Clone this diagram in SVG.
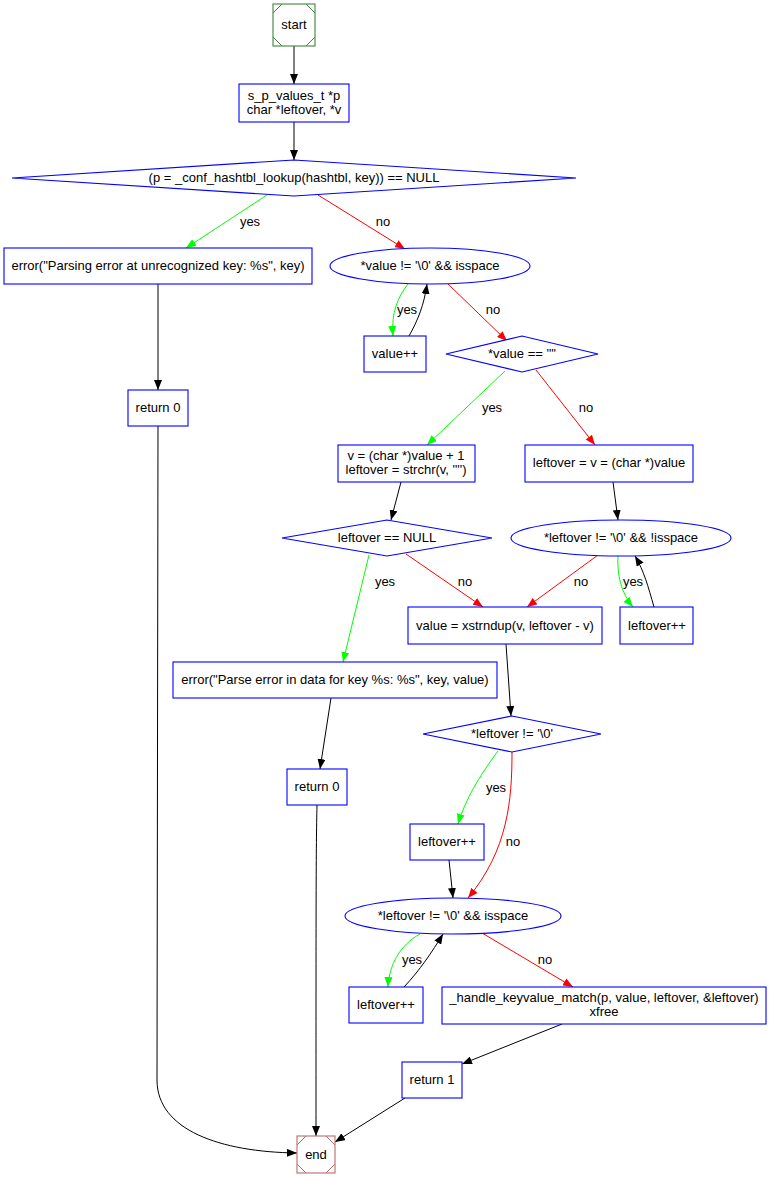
<svg xmlns="http://www.w3.org/2000/svg" width="770" height="1178" viewBox="0 0 770 1178">
  <style>
    text { font-family: "Liberation Sans", Arial, sans-serif; font-size: 13px; fill: #000; text-anchor: middle; dominant-baseline: central; }
    .node { fill: #fff; stroke: #0000ff; stroke-width: 1.1; }
    .edge { fill: none; stroke-width: 1; }
    .k { stroke: #000; }
    .g { stroke: #00ff00; }
    .r { stroke: #ff0000; }
  </style>
  <defs>
    <marker id="ak" viewBox="0 0 10 8" refX="10" refY="4" markerWidth="10" markerHeight="8" markerUnits="userSpaceOnUse" orient="auto">
      <path d="M0,0 L10,4 L0,8 z" fill="#000"/>
    </marker>
    <marker id="ag" viewBox="0 0 10 8" refX="10" refY="4" markerWidth="10" markerHeight="8" markerUnits="userSpaceOnUse" orient="auto">
      <path d="M0,0 L10,4 L0,8 z" fill="#00ff00"/>
    </marker>
    <marker id="ar" viewBox="0 0 10 8" refX="10" refY="4" markerWidth="10" markerHeight="8" markerUnits="userSpaceOnUse" orient="auto">
      <path d="M0,0 L10,4 L0,8 z" fill="#ff0000"/>
    </marker>
  </defs>

  <!-- connectors -->
  <g id="edges">
    <path class="edge k" d="M294,46 L294,84" marker-end="url(#ak)"/>
    <path class="edge k" d="M294,122 L294,160" marker-end="url(#ak)"/>
    <path class="edge g" d="M267,195 L186,248" marker-end="url(#ag)"/>
    <text x="250" y="221">yes</text>
    <path class="edge r" d="M318,195 L405,249" marker-end="url(#ar)"/>
    <text x="383" y="221">no</text>
    <path class="edge k" d="M158,284 L158,390" marker-end="url(#ak)"/>
    <path class="edge g" d="M408,284 C398,297 391,312 393,336" marker-end="url(#ag)"/>
    <text x="407" y="309">yes</text>
    <path class="edge k" d="M409,336 C418,320 424,305 427,284" marker-end="url(#ak)"/>
    <path class="edge r" d="M448,284 L507,341" marker-end="url(#ar)"/>
    <text x="493" y="309">no</text>
    <path class="edge g" d="M505,371 L427,445" marker-end="url(#ag)"/>
    <text x="492" y="407">yes</text>
    <path class="edge r" d="M536,370 L595,445" marker-end="url(#ar)"/>
    <text x="586" y="407">no</text>
    <path class="edge k" d="M158,426 L157,1080 C157,1130 220,1152 297,1153" marker-end="url(#ak)"/>
    <path class="edge k" d="M401,482 L391,520" marker-end="url(#ak)"/>
    <path class="edge k" d="M613,482 L618,520" marker-end="url(#ak)"/>
    <path class="edge g" d="M369,555 L343,662" marker-end="url(#ag)"/>
    <text x="385" y="581">yes</text>
    <path class="edge r" d="M406,554 L483,607" marker-end="url(#ar)"/>
    <text x="465" y="581">no</text>
    <path class="edge r" d="M598,555 L527,607" marker-end="url(#ar)"/>
    <text x="581" y="581">no</text>
    <path class="edge g" d="M618,556 C617,575 621,593 633,607" marker-end="url(#ag)"/>
    <text x="633" y="581">yes</text>
    <path class="edge k" d="M654,607 C648,586 644,571 635,556" marker-end="url(#ak)"/>
    <path class="edge k" d="M331,698 L320,769" marker-end="url(#ak)"/>
    <path class="edge k" d="M317,805 C316,850 316,900 316,1136" marker-end="url(#ak)"/>
    <path class="edge k" d="M506,644 L511,716" marker-end="url(#ak)"/>
    <path class="edge g" d="M498,751 C480,775 465,800 458,824" marker-end="url(#ag)"/>
    <text x="496" y="787">yes</text>
    <path class="edge r" d="M512,752 C512,800 508,850 468,898" marker-end="url(#ar)"/>
    <text x="513" y="841">no</text>
    <path class="edge k" d="M449,860 L453,898" marker-end="url(#ak)"/>
    <path class="edge g" d="M420,934 C400,945 389,965 388,987" marker-end="url(#ag)"/>
    <text x="412" y="959">yes</text>
    <path class="edge k" d="M404,987 C420,970 432,952 443,934" marker-end="url(#ak)"/>
    <path class="edge r" d="M482,933 L573,987" marker-end="url(#ar)"/>
    <text x="545" y="959">no</text>
    <path class="edge k" d="M562,1024 L462,1064" marker-end="url(#ak)"/>
    <path class="edge k" d="M405,1098 L335,1142" marker-end="url(#ak)"/>
  </g>

  <!-- nodes -->
  <g id="start">
    <rect x="273" y="4" width="42" height="42" fill="#fff" stroke="#3f843f" stroke-width="1.1"/>
    <path d="M273,13 L282,4 M306,4 L315,13 M315,37 L306,46 M282,46 L273,37" stroke="#3f843f" fill="none"/>
    <text x="294" y="24">start</text>
  </g>
  <g id="decl">
    <rect class="node" x="239" y="84" width="110" height="38"/>
    <text x="294" y="95">s_p_values_t *p</text>
    <text x="294" y="109">char *leftover, *v</text>
  </g>
  <g id="lookup">
    <polygon class="node" points="12,178 294,160 576,178 294,196"/>
    <text x="294" y="177">(p = _conf_hashtbl_lookup(hashtbl, key)) == NULL</text>
  </g>
  <g id="err_key">
    <rect class="node" x="4" y="248" width="308" height="36"/>
    <text x="158" y="265">error("Parsing error at unrecognized key: %s", key)</text>
  </g>
  <g id="skip_ws">
    <ellipse class="node" cx="430" cy="266" rx="100" ry="18"/>
    <text x="430" y="265">*value != '\0' &amp;&amp; isspace</text>
  </g>
  <g id="value_inc">
    <rect class="node" x="364" y="336" width="62" height="36"/>
    <text x="395" y="353">value++</text>
  </g>
  <g id="is_quote">
    <polygon class="node" points="446,354 522,336 598,354 522,372"/>
    <text x="522" y="353">*value == '"'</text>
  </g>
  <g id="ret0_a">
    <rect class="node" x="128" y="390" width="60" height="36"/>
    <text x="158" y="407">return 0</text>
  </g>
  <g id="quoted">
    <rect class="node" x="338" y="445" width="137" height="37"/>
    <text x="406" y="455">v = (char *)value + 1</text>
    <text x="406" y="469">leftover = strchr(v, '"')</text>
  </g>
  <g id="unquoted">
    <rect class="node" x="525" y="445" width="168" height="37"/>
    <text x="609" y="462">leftover = v = (char *)value</text>
  </g>
  <g id="null_check">
    <polygon class="node" points="282,538 387,520 492,538 387,556"/>
    <text x="387" y="537">leftover == NULL</text>
  </g>
  <g id="scan_word">
    <ellipse class="node" cx="621" cy="538" rx="110" ry="18"/>
    <text x="621" y="537">*leftover != '\0' &amp;&amp; !isspace</text>
  </g>
  <g id="dup">
    <rect class="node" x="408" y="607" width="194" height="37"/>
    <text x="505" y="625">value = xstrndup(v, leftover - v)</text>
  </g>
  <g id="leftover_inc_a">
    <rect class="node" x="620" y="607" width="73" height="37"/>
    <text x="657" y="625">leftover++</text>
  </g>
  <g id="err_data">
    <rect class="node" x="173" y="662" width="324" height="36"/>
    <text x="335" y="679">error("Parse error in data for key %s: %s", key, value)</text>
  </g>
  <g id="not_end">
    <polygon class="node" points="423,734 512,716 601,734 512,752"/>
    <text x="512" y="733">*leftover != '\0'</text>
  </g>
  <g id="ret0_b">
    <rect class="node" x="287" y="769" width="60" height="36"/>
    <text x="317" y="786">return 0</text>
  </g>
  <g id="leftover_inc_b">
    <rect class="node" x="410" y="824" width="74" height="36"/>
    <text x="447" y="841">leftover++</text>
  </g>
  <g id="skip_ws2">
    <ellipse class="node" cx="453" cy="916" rx="108" ry="18"/>
    <text x="453" y="915">*leftover != '\0' &amp;&amp; isspace</text>
  </g>
  <g id="leftover_inc_c">
    <rect class="node" x="349" y="987" width="74" height="36"/>
    <text x="386" y="1004">leftover++</text>
  </g>
  <g id="handle">
    <rect class="node" x="442" y="987" width="324" height="37"/>
    <text x="604" y="997">_handle_keyvalue_match(p, value, leftover, &amp;leftover)</text>
    <text x="604" y="1011">xfree</text>
  </g>
  <g id="ret1">
    <rect class="node" x="402" y="1062" width="60" height="36"/>
    <text x="432" y="1079">return 1</text>
  </g>
  <g id="end">
    <rect x="297" y="1136" width="38" height="37" fill="#fff" stroke="#b86a6a" stroke-width="1.1"/>
    <path d="M297,1145 L306,1136 M326,1136 L335,1145 M335,1164 L326,1173 M306,1173 L297,1164" stroke="#b86a6a" fill="none"/>
    <text x="316" y="1154">end</text>
  </g>
</svg>
